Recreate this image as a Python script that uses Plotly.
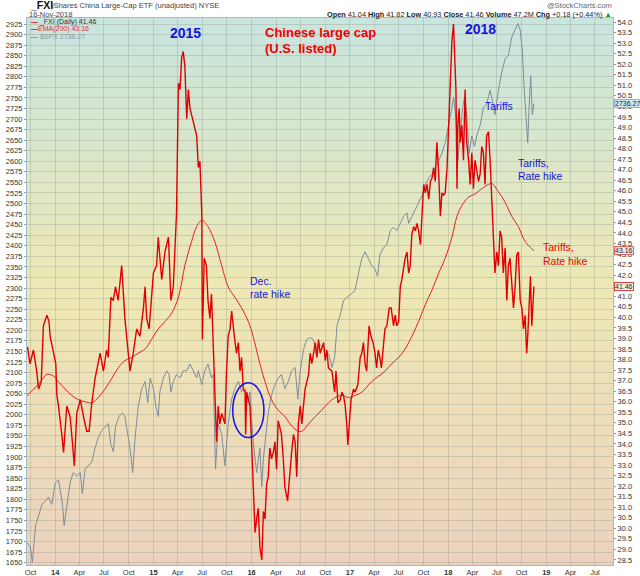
import plotly.graph_objects as go

# ---- data ----
fxi_dates = [
    "2013-09-20", "2013-09-29", "2013-10-12", "2013-10-24", "2013-10-31", "2013-11-10", "2013-11-18",
    "2013-12-01", "2013-12-09", "2013-12-13", "2013-12-26", "2014-01-03", "2014-01-07", "2014-01-13",
    "2014-01-25", "2014-02-01", "2014-02-13", "2014-02-25", "2014-03-03", "2014-03-13", "2014-03-22",
    "2014-04-04", "2014-04-16", "2014-04-28", "2014-05-07", "2014-05-17", "2014-05-29", "2014-06-10",
    "2014-06-17", "2014-06-29", "2014-07-11", "2014-07-17", "2014-07-27", "2014-08-05", "2014-08-13",
    "2014-08-23", "2014-09-05", "2014-09-17", "2014-09-30", "2014-10-06", "2014-10-18", "2014-10-31",
    "2014-11-12", "2014-11-25", "2014-12-01", "2014-12-07", "2014-12-16", "2015-01-01", "2015-01-13",
    "2015-01-19", "2015-02-01", "2015-02-13", "2015-02-26", "2015-03-07", "2015-03-16", "2015-03-28",
    "2015-04-04", "2015-04-10", "2015-04-16", "2015-04-22", "2015-04-28", "2015-05-05", "2015-05-11",
    "2015-05-17", "2015-05-23", "2015-05-29", "2015-06-05", "2015-06-11", "2015-06-17", "2015-06-23",
    "2015-06-30", "2015-07-02", "2015-07-09", "2015-07-17", "2015-07-23", "2015-07-30", "2015-08-05",
    "2015-08-11", "2015-08-17", "2015-08-24", "2015-08-30", "2015-09-05", "2015-09-12", "2015-09-24",
    "2015-09-30", "2015-10-06", "2015-10-13", "2015-10-19", "2015-10-29", "2015-11-06", "2015-11-13",
    "2015-11-19", "2015-11-25", "2015-12-01", "2015-12-08", "2015-12-10", "2015-12-14", "2015-12-20",
    "2015-12-26", "2016-01-01", "2016-01-07", "2016-01-14", "2016-01-20", "2016-01-26", "2016-02-01",
    "2016-02-08", "2016-02-14", "2016-02-20", "2016-02-26", "2016-03-03", "2016-03-09", "2016-03-15",
    "2016-03-22", "2016-03-28", "2016-04-03", "2016-04-09", "2016-04-15", "2016-04-21", "2016-04-28",
    "2016-05-04", "2016-05-14", "2016-05-23", "2016-05-29", "2016-06-05", "2016-06-11", "2016-06-17",
    "2016-06-23", "2016-06-30", "2016-07-06", "2016-07-12", "2016-07-18", "2016-07-31", "2016-08-06",
    "2016-08-12", "2016-08-25", "2016-08-31", "2016-09-06", "2016-09-12", "2016-09-25", "2016-10-01",
    "2016-10-07", "2016-10-13", "2016-10-26", "2016-11-05", "2016-11-10", "2016-11-17", "2016-11-26",
    "2016-12-02", "2016-12-08", "2016-12-14", "2016-12-20", "2016-12-24", "2016-12-29", "2017-01-05",
    "2017-01-14", "2017-01-20", "2017-01-30", "2017-02-08", "2017-02-14", "2017-02-20", "2017-02-26",
    "2017-03-04", "2017-03-13", "2017-03-20", "2017-03-28", "2017-04-04", "2017-04-10", "2017-04-16",
    "2017-04-22", "2017-04-28", "2017-05-05", "2017-05-11", "2017-05-18", "2017-05-27", "2017-06-03",
    "2017-06-12", "2017-06-18", "2017-06-24", "2017-07-01", "2017-07-07", "2017-07-13", "2017-07-19",
    "2017-07-25", "2017-08-01", "2017-08-07", "2017-08-13", "2017-08-19", "2017-08-26", "2017-09-01",
    "2017-09-07", "2017-09-13", "2017-09-20", "2017-09-26", "2017-10-02", "2017-10-08", "2017-10-14",
    "2017-10-21", "2017-10-27", "2017-11-02", "2017-11-08", "2017-11-14", "2017-11-20", "2017-11-27",
    "2017-12-03", "2017-12-09", "2017-12-15", "2017-12-21", "2017-12-28", "2018-01-03", "2018-01-09",
    "2018-01-15", "2018-01-21", "2018-01-25", "2018-01-30", "2018-02-03", "2018-02-06", "2018-02-11",
    "2018-02-15", "2018-02-21", "2018-02-27", "2018-03-05", "2018-03-11", "2018-03-18", "2018-03-24",
    "2018-03-30", "2018-04-05", "2018-04-11", "2018-04-17", "2018-04-24", "2018-04-30", "2018-05-06",
    "2018-05-12", "2018-05-18", "2018-05-24", "2018-05-31", "2018-06-06", "2018-06-12", "2018-06-18",
    "2018-06-24", "2018-07-01", "2018-07-07", "2018-07-13", "2018-07-19", "2018-07-25", "2018-08-01",
    "2018-08-07", "2018-08-13", "2018-08-19", "2018-08-25", "2018-09-01", "2018-09-07", "2018-09-13",
    "2018-09-19", "2018-09-26", "2018-10-02", "2018-10-08", "2018-10-14", "2018-10-20", "2018-10-24",
    "2018-10-29", "2018-11-03", "2018-11-08", "2018-11-14", "2018-11-16",
]
fxi_close = [
    38.6, 37.8, 38.45, 37.45, 36.6, 36.95, 39.6,
    40.1, 39.8, 39.1, 38.3, 37.8, 36.3, 35.8,
    34.5, 33.6, 35.8, 35.3, 34.5, 32.95, 35.45,
    36.1, 35.3, 34.6, 34.6, 35.95, 37.1, 37.95,
    38.3, 37.45, 38.45, 38.1, 40.95, 40.8, 41.45,
    40.8, 42.45, 39.95, 38.3, 37.45, 38.3, 39.45,
    39.1, 40.45, 41.45, 39.95, 39.45, 42.1, 42.45,
    43.8, 41.8, 43.1, 43.8, 40.8, 41.45, 44.95,
    51.1, 50.8, 52.3, 52.6, 51.9, 49.4, 50.8,
    49.9, 49.6, 49.3, 48.9, 48.6, 47.1, 47.4,
    44.9, 38.95, 42.8, 42.45, 40.8, 39.95, 41.1,
    39.1, 36.6, 34.1, 35.8, 34.95, 35.45, 34.95,
    37.45, 39.1, 39.45, 40.3, 39.1, 38.3, 38.8,
    37.45, 38.1, 36.6, 36.45, 34.45, 36.45, 36.1,
    35.8, 34.1, 31.6, 29.8, 30.45, 30.95, 29.1,
    28.5, 30.8, 30.45, 32.1, 32.45, 33.8, 33.3,
    33.6, 34.1, 32.8, 35.1, 34.8, 34.45, 33.3,
    31.95, 31.3, 32.8, 33.6, 34.45, 34.1, 32.45,
    34.95, 35.8, 34.95, 35.8, 36.6, 37.3, 38.3,
    37.8, 38.8, 38.1, 38.95, 38.3, 38.8, 37.95,
    38.45, 37.6, 37.45, 36.45, 37.45, 35.95, 36.1,
    36.45, 36.3, 35.8, 34.95, 33.95, 34.95, 36.1,
    36.6, 36.45, 36.8, 38.1, 38.3, 38.8, 37.8,
    37.45, 39.6, 39.1, 38.8, 38.3, 37.6, 38.45,
    38.1, 37.6, 38.6, 39.45, 39.6, 40.45, 40.45,
    39.6, 40.1, 39.6, 39.8, 41.45, 41.8, 42.45,
    42.8, 43.1, 42.1, 42.45, 43.95, 44.3, 44.1,
    44.45, 44.1, 43.45, 45.3, 46.3, 45.9, 46.3,
    45.6, 46.45, 46.6, 47.1, 46.45, 48.3, 46.8,
    44.8, 45.9, 45.8, 45.9, 47.1, 49.1, 51.6,
    53.1, 53.9, 52.8, 50.8, 46.1, 49.1, 49.9,
    48.3, 49.1, 47.45, 50.8, 48.3, 47.45, 46.3,
    47.8, 46.1, 47.45, 46.95, 46.45, 46.8, 48.1,
    47.8, 46.3, 48.6, 48.8, 47.45, 45.8, 44.1,
    42.1, 43.1, 42.45, 44.1, 43.8, 42.1, 43.3,
    40.8, 42.45, 42.8, 41.45, 40.45, 41.45, 42.95,
    43.1, 40.8, 40.45, 39.45, 40.1, 38.3, 39.1,
    40.45, 41.95, 39.6, 41.45, 41.46,
]

ema_dates = [
    "2013-09-18", "2013-10-13", "2013-11-07", "2013-12-02", "2013-12-27", "2014-01-13", "2014-02-07",
    "2014-03-03", "2014-03-28", "2014-04-22", "2014-05-17", "2014-06-10", "2014-07-05", "2014-07-30",
    "2014-08-23", "2014-09-17", "2014-10-12", "2014-11-06", "2014-12-01", "2014-12-25", "2015-01-19",
    "2015-02-13", "2015-03-10", "2015-04-04", "2015-04-28", "2015-05-23", "2015-06-11", "2015-06-30",
    "2015-07-23", "2015-08-17", "2015-09-12", "2015-10-06", "2015-10-31", "2015-11-25", "2015-12-20",
    "2016-01-07", "2016-01-26", "2016-02-20", "2016-03-15", "2016-04-09", "2016-05-04", "2016-05-29",
    "2016-06-23", "2016-07-06", "2016-07-31", "2016-08-25", "2016-09-18", "2016-10-13", "2016-11-07",
    "2016-12-02", "2016-12-27", "2017-01-20", "2017-02-14", "2017-03-22", "2017-04-16", "2017-05-11",
    "2017-06-05", "2017-07-01", "2017-07-25", "2017-08-19", "2017-09-13", "2017-10-08", "2017-11-02",
    "2017-11-27", "2017-12-21", "2018-01-15", "2018-02-03", "2018-02-21", "2018-03-18", "2018-04-11",
    "2018-05-06", "2018-05-31", "2018-06-12", "2018-07-07", "2018-08-01", "2018-08-25", "2018-09-19",
    "2018-10-14", "2018-11-08", "2018-11-16",
]
ema_values = [
    36.3, 36.6, 36.95, 37.3, 37.2, 36.95, 36.6,
    36.3, 36.1, 36.0, 35.95, 36.2, 36.6, 37.1,
    37.6, 37.95, 38.1, 38.3, 38.5, 38.95, 39.45,
    39.8, 40.2, 40.95, 42.45, 43.6, 44.3, 44.6,
    44.3, 43.6, 42.45, 41.45, 40.95, 40.45, 39.8,
    39.1, 38.1, 36.95, 36.1, 35.6, 35.3, 34.85,
    34.6, 34.6, 34.95, 35.3, 35.6, 35.95, 36.2,
    36.3, 36.2, 36.3, 36.45, 36.95, 37.2, 37.45,
    37.8, 38.1, 38.5, 39.1, 39.8, 40.6, 41.3,
    42.1, 42.8, 43.8, 44.8, 45.3, 45.7, 45.85,
    46.1, 46.3, 46.35, 45.95, 45.45, 44.8, 44.3,
    43.6, 43.25, 43.16,
]

spx_dates = [
    "2013-09-18", "2013-09-30", "2013-10-08", "2013-10-14", "2013-10-20", "2013-11-01", "2013-11-13",
    "2013-11-25", "2013-12-07", "2013-12-19", "2014-01-01", "2014-01-13", "2014-01-19", "2014-01-28",
    "2014-02-03", "2014-02-13", "2014-02-25", "2014-03-09", "2014-03-22", "2014-04-04", "2014-04-12",
    "2014-04-22", "2014-05-05", "2014-05-17", "2014-05-29", "2014-06-10", "2014-06-23", "2014-07-05",
    "2014-07-17", "2014-07-27", "2014-08-05", "2014-08-13", "2014-08-26", "2014-09-08", "2014-09-17",
    "2014-09-23", "2014-10-02", "2014-10-12", "2014-10-16", "2014-10-25", "2014-11-06", "2014-11-19",
    "2014-12-01", "2014-12-11", "2014-12-20", "2015-01-01", "2015-01-10", "2015-01-19", "2015-01-25",
    "2015-02-07", "2015-02-20", "2015-02-28", "2015-03-07", "2015-03-16", "2015-03-28", "2015-04-10",
    "2015-04-22", "2015-05-05", "2015-05-17", "2015-05-29", "2015-06-11", "2015-06-17", "2015-06-30",
    "2015-07-11", "2015-07-23", "2015-08-05", "2015-08-11", "2015-08-20", "2015-08-30", "2015-09-12",
    "2015-09-24", "2015-10-06", "2015-10-19", "2015-10-31", "2015-11-13", "2015-11-25", "2015-12-08",
    "2015-12-20", "2015-12-26", "2016-01-07", "2016-01-20", "2016-02-01", "2016-02-08", "2016-02-14",
    "2016-02-23", "2016-03-03", "2016-03-15", "2016-03-28", "2016-04-09", "2016-04-21", "2016-05-04",
    "2016-05-17", "2016-05-29", "2016-06-11", "2016-06-21", "2016-06-30", "2016-07-12", "2016-07-24",
    "2016-08-06", "2016-08-18", "2016-08-27", "2016-09-06", "2016-09-18", "2016-10-01", "2016-10-13",
    "2016-10-26", "2016-11-05", "2016-11-14", "2016-11-26", "2016-12-08", "2016-12-20", "2017-01-08",
    "2017-01-20", "2017-02-02", "2017-02-14", "2017-02-26", "2017-03-10", "2017-03-23", "2017-04-04",
    "2017-04-14", "2017-04-22", "2017-05-05", "2017-05-18", "2017-05-31", "2017-06-12", "2017-06-24",
    "2017-07-07", "2017-07-19", "2017-08-01", "2017-08-07", "2017-08-19", "2017-09-01", "2017-09-13",
    "2017-09-26", "2017-10-08", "2017-10-21", "2017-11-02", "2017-11-14", "2017-11-27", "2017-12-09",
    "2017-12-21", "2018-01-03", "2018-01-15", "2018-01-21", "2018-01-30", "2018-02-06", "2018-02-15",
    "2018-02-24", "2018-03-03", "2018-03-11", "2018-03-20", "2018-03-30", "2018-04-09", "2018-04-17",
    "2018-04-30", "2018-05-12", "2018-05-24", "2018-06-06", "2018-06-15", "2018-06-24", "2018-07-07",
    "2018-07-19", "2018-08-01", "2018-08-13", "2018-08-25", "2018-09-07", "2018-09-17", "2018-09-26",
    "2018-10-04", "2018-10-11", "2018-10-17", "2018-10-24", "2018-10-29", "2018-11-04", "2018-11-10",
    "2018-11-16",
]
spx_close = [
    1697, 1688, 1651, 1705, 1738, 1763, 1788,
    1796, 1805, 1788, 1838, 1846, 1821, 1788,
    1738, 1788, 1838, 1863, 1855, 1863, 1813,
    1871, 1879, 1888, 1921, 1946, 1963, 1971,
    1979, 1929, 1913, 1971, 1996, 2004, 1996,
    1971, 1938, 1888, 1863, 1946, 2021, 2062,
    2079, 2029, 2087, 2062, 2021, 1996, 2054,
    2087, 2104, 2095, 2054, 2079, 2095, 2087,
    2104, 2104, 2120, 2104, 2087, 2104, 2071,
    2104, 2120, 2087, 2095, 1871, 1979, 1954,
    1879, 1979, 2037, 2062, 2079, 2054, 2062,
    2029, 2054, 1938, 1863, 1921, 1830, 1896,
    1946, 2004, 2046, 2071, 2087, 2095, 2062,
    2079, 2104, 2112, 2037, 2104, 2154, 2178,
    2183, 2178, 2145, 2170, 2162, 2154, 2145,
    2112, 2137, 2212, 2237, 2270, 2278, 2287,
    2295, 2336, 2370, 2386, 2370, 2353, 2345,
    2328, 2378, 2395, 2403, 2436, 2444, 2436,
    2453, 2469, 2478, 2453, 2469, 2486, 2503,
    2519, 2544, 2561, 2569, 2586, 2602, 2619,
    2644, 2685, 2727, 2752, 2702, 2602, 2660,
    2727, 2752, 2710, 2619, 2660, 2635, 2660,
    2685, 2727, 2735, 2768, 2743, 2710, 2768,
    2810, 2843, 2851, 2893, 2910, 2926, 2910,
    2860, 2768, 2710, 2644, 2727, 2802, 2710,
    2736.27,
]

tick_dates = [
    "2013-10-01",
    "2014-01-01", "2014-04-01", "2014-07-01", "2014-10-01",
    "2015-01-01", "2015-04-01", "2015-07-01", "2015-10-01",
    "2016-01-01", "2016-04-01", "2016-07-01", "2016-10-01",
    "2017-01-01", "2017-04-01", "2017-07-01", "2017-10-01",
    "2018-01-01", "2018-04-01", "2018-07-01", "2018-10-01",
    "2019-01-01", "2019-04-01", "2019-07-01",
]
tick_labels = [
    "Oct",
    "<b>14</b>", "Apr", "Jul", "Oct",
    "<b>15</b>", "Apr", "Jul", "Oct",
    "<b>16</b>", "Apr", "Jul", "Oct",
    "<b>17</b>", "Apr", "Jul", "Oct",
    "<b>18</b>", "Apr", "Jul", "Oct",
    "<b>19</b>", "Apr", "Jul",
]

spx_ticks = list(range(1650, 2926, 25))
fxi_ticks = [28.5 + 0.5 * i for i in range(52)]

# ---- geometry (pixels of the 640x576 page) ----
W, H = 640, 576
L, R, T, B = 27, 27, 18, 11
PW, PH = W - L - R, H - T - B


def px(x):
    return (x - L) / PW


def py(y):
    return (H - B - y) / PH


FONT = "Liberation Sans, Arial, sans-serif"
BLUE = "#1414e0"
RED = "#ee0000"

fig = go.Figure()
fig.add_trace(go.Scatter(x=spx_dates, y=spx_close, mode="lines", yaxis="y",
                         line=dict(color="#7d8c9c", width=1), hoverinfo="skip"))
fig.add_trace(go.Scatter(x=ema_dates, y=ema_values, mode="lines", yaxis="y2",
                         line=dict(color="#e52020", width=1, shape="spline"), hoverinfo="skip"))
fig.add_trace(go.Scatter(x=fxi_dates, y=fxi_close, mode="lines", yaxis="y2",
                         line=dict(color="#e00000", width=1.4), hoverinfo="skip"))

# background gradient: teal -> pale yellow -> peach
stops = [(0.0, (199, 229, 224)), (0.5, (238, 232, 180)), (1.0, (236, 210, 190))]


def grad(t):
    for (t0, c0), (t1, c1) in zip(stops[:-1], stops[1:]):
        if t <= t1:
            f = (t - t0) / (t1 - t0)
            return "rgb(%d,%d,%d)" % tuple(round(a + (b - a) * f) for a, b in zip(c0, c1))
    return "rgb(%d,%d,%d)" % stops[-1][1]


n = 70
shapes = []
for i in range(n):
    shapes.append(dict(type="rect", xref="x domain", yref="y domain",
                       x0=0, x1=1, y0=1 - (i + 1) / n, y1=1 - i / n + 0.002,
                       fillcolor=grad((i + 0.5) / n), line=dict(width=0), layer="below"))

# the blue ellipse around Dec 2015
shapes.append(dict(type="circle", xref="x", yref="y2",
                   x0="2015-10-23", x1="2016-02-16", y0=34.3, y1=36.9,
                   line=dict(color="#1010e8", width=1.5)))

ann = []


def text(x, y, s, size=8, color="#333", xanchor="left", bold=False, **kw):
    if bold:
        s = "<b>%s</b>" % s
    ann.append(dict(x=px(x), y=py(y), xref="paper", yref="paper", text=s, showarrow=False,
                    xanchor=xanchor, yanchor="middle", font=dict(family=FONT, size=size, color=color),
                    **kw))


# header
text(28, 5, "_FXI", size=10.5, color="#111", bold=True)
text(50, 6, "iShares China Large-Cap ETF (unadjusted) NYSE", size=7.5, color="#444")
text(27, 14.5, "16-Nov-2018", size=7.5, color="#444")
text(614, 5.5, "@StockCharts.com", size=7.5, color="#666", xanchor="right")
text(614, 14.5,
     "<b>Open</b> 41.04 <b>High</b> 41.82 <b>Low</b> 40.93 <b>Close</b> 41.46 "
     "<b>Volume</b> 47.2M <b>Chg</b> +0.18 (+0.44%) <span style='color:#1a9a1a'>▲</span>",
     size=7.3, color="#222", xanchor="right")

# in-plot legend
text(29, 22, "<span style='color:#e00000'><b>—</b></span> _FXI (Daily) 41.46", size=7, color="#333")
text(29, 29, "<span style='color:#e00000'><b>—</b></span>EMA(200) 43.16", size=7, color="#e03030")
text(29, 36, "<span style='color:#8090a0'><b>—</b></span> $SPX 2736.27", size=7, color="#8a96a2")

# chart notes
text(185, 33, "2015", size=14, color=BLUE, xanchor="center", bold=True)
text(480, 29, "2018", size=14, color=BLUE, xanchor="center", bold=True)
text(263, 33, "Chinese large cap", size=13, color=RED, bold=True)
text(263, 48, "(U.S. listed)", size=13, color=RED, bold=True)
text(248, 281, "Dec.", size=10.5, color=BLUE)
text(248, 294, "rate hike", size=10.5, color=BLUE)
text(483, 106, "Tariffs", size=10.5, color=BLUE)
text(516, 163, "Tariffs,", size=10.5, color=BLUE)
text(516, 176, "Rate hike", size=10.5, color=BLUE)
text(541, 247, "Tariffs,", size=10.5, color=RED)
text(541, 261, "Rate hike", size=10.5, color=RED)

# last-value tags on the right edge
tags = [("y", 2736.27, "2736.27", "#cfe6ee", "#8fb6c8"),
        ("y2", 43.16, "43.16", "#fbe3e3", "#e06060"),
        ("y2", 41.46, "41.46", "#f6f0e0", "#e04040")]
for yref, val, label, bg, bd in tags:
    ann.append(dict(x=1.0, y=val, xref="paper", yref=yref, text=label, showarrow=False,
                    xanchor="left", yanchor="middle", xshift=1,
                    font=dict(family=FONT, size=7, color="#222"),
                    bgcolor=bg, bordercolor=bd, borderwidth=1, borderpad=0))

grid = "rgba(150,155,140,0.35)"
fig.update_layout(
    width=W, height=H, autosize=False,
    margin=dict(l=L, r=R, t=T, b=B),
    paper_bgcolor="white", plot_bgcolor="rgba(0,0,0,0)",
    showlegend=False,
    shapes=shapes, annotations=ann,
    font=dict(family=FONT, size=7.5, color="#333"),
    xaxis=dict(type="date", range=["2013-09-18", "2019-09-06"],
               tickvals=tick_dates, ticktext=tick_labels, tickangle=0,
               showgrid=True, gridcolor=grid, gridwidth=1,
               ticks="",
               tickfont=dict(size=7.5, color="#333"),
               showline=True, linecolor="#9fbccb", mirror=True, zeroline=False,
               automargin=False),
    yaxis=dict(range=[1644.3, 2939.2], tickvals=spx_ticks,
               showgrid=True, gridcolor=grid, gridwidth=1,
               ticks="outside", ticklen=2, tickcolor="#999",
               tickfont=dict(size=7.5, color="#333"),
               showline=True, linecolor="#9fbccb", mirror=True, zeroline=False,
               automargin=False),
    yaxis2=dict(range=[28.26, 54.19], overlaying="y", side="right",
                tickvals=fxi_ticks, ticktext=["%.1f" % v for v in fxi_ticks],
                showgrid=False, ticks="outside", ticklen=2, tickcolor="#999",
                tickfont=dict(size=7.5, color="#333"),
                showline=False, zeroline=False, automargin=False),
)

fig.write_html("out.html", config={"displayModeBar": False},
               post_script="document.body.style.margin='0';document.body.style.overflow='hidden';")
